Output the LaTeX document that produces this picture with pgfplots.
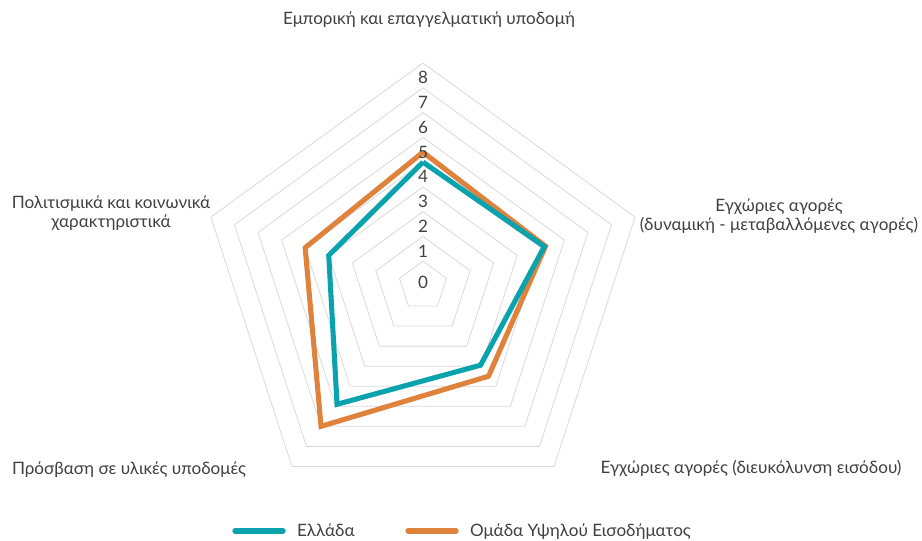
\documentclass[border=0pt]{standalone}
\usepackage{fontspec}
\setmainfont{Lato}
\usepackage{pgfplots}
\pgfplotsset{compat=1.18}
\usepgfplotslibrary{polar}

\definecolor{grc}{HTML}{0AA3AD}
\definecolor{hic}{HTML}{DF823C}
\definecolor{gridc}{HTML}{D9D9D9}
\definecolor{txt}{HTML}{404040}

\newcommand{\lblfont}{\fontsize{12.8}{14.6}\selectfont}

\begin{document}
\begin{tikzpicture}[font=\lblfont, text=txt]
\path[use as bounding box] (-317.25pt,-190.5pt) rectangle (374.25pt,214.5pt);
\begin{polaraxis}[
    at={(0,0)}, anchor=center,
    scale only axis,
    width=334.5pt, height=334.5pt,
    hide axis,
    clip=false,
    y coord trafo/.code={\pgfmathparse{#1+1}},
    y coord inv trafo/.code={\pgfmathparse{#1-1}},
    ymin=-1, ymax=8,
    xmin=0, xmax=360,
    legend columns=2,
    legend style={draw=none, fill=none, at={(0.063,-0.049)}, anchor=west,
        font=\lblfont, text=txt,
        /tikz/every odd column/.append style={column sep=6.5pt},
        /tikz/every even column/.append style={column sep=36pt}},
    legend image code/.code={
        \draw[#1, line cap=round] (0pt,0pt) -- (36pt,0pt);},
]
% pentagon grid, one ring per value 0..8
\pgfplotsinvokeforeach{0,...,8}{
  \addplot[gridc, line width=0.6pt, forget plot]
    coordinates {(90,#1) (18,#1) (-54,#1) (-126,#1) (-198,#1) (-270,#1)};
}
% radial value labels
\addplot[draw=none, forget plot, nodes near coords, point meta=explicit symbolic,
  every node near coord/.style={anchor=center, yshift=-11pt, text=txt, font=\lblfont}]
  coordinates {(90,1)[1] (90,2)[2] (90,3)[3] (90,4)[4]
               (90,5)[5] (90,6)[6] (90,7)[7] (90,8)[8]};
\addplot[draw=none, forget plot, nodes near coords, point meta=explicit symbolic,
  every node near coord/.style={anchor=center, yshift=-15.5pt, text=txt, font=\lblfont}]
  coordinates {(90,0)[0]};

\addlegendimage{grc, line width=4pt}
\addlegendentry{Ελλάδα}
\addlegendimage{hic, line width=4pt}
\addlegendentry{Ομάδα Υψηλού Εισοδήματος}

% axes: top, upper right, lower right, lower left, upper left
\addplot[hic, line width=3.8pt, line join=miter, forget plot]
  coordinates {(90,4.4) (18,4.2) (-54,3.5) (-126,6.0) (-198,4.0) (-270,4.4)};
\addplot[grc, line width=3.8pt, line join=miter, forget plot]
  coordinates {(90,4.0) (18,4.15) (-54,2.95) (-126,4.9) (-198,3.0) (-270,4.0)};
\end{polaraxis}

\node[align=center] at (4.5pt,199.5pt) {Εμπορική και επαγγελματική υποδομή};
\node[align=center] at (267pt,52.5pt) {Εγχώριες αγορές\\(δυναμική - μεταβαλλόμενες αγορές)};
\node[align=center] at (246pt,-137pt) {Εγχώριες αγορές (διευκόλυνση εισόδου)};
\node[align=center] at (-220.5pt,-138pt) {Πρόσβαση σε υλικές υποδομές};
\node[align=center] at (-234pt,54.5pt) {Πολιτισμικά και κοινωνικά\\χαρακτηριστικά};
\end{tikzpicture}
\end{document}
